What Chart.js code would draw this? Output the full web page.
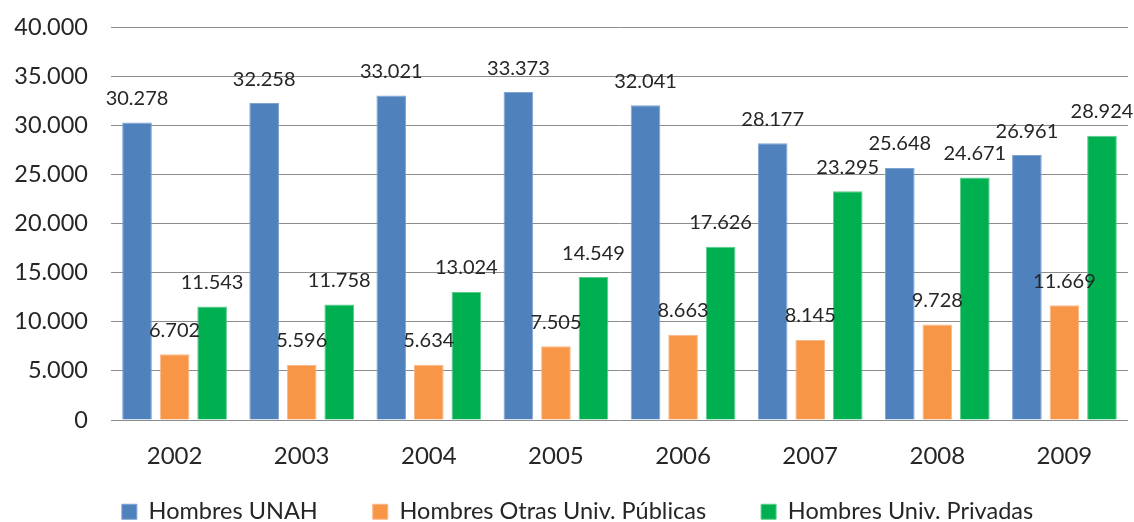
<!DOCTYPE html>
<html>
<head>
<meta charset="utf-8">
<script src="https://cdn.jsdelivr.net/npm/chart.js@4"></script>
<style>
html,body{margin:0;padding:0;background:#fff;}
#wrap{width:1134px;height:522px;position:relative;}
</style>
</head>
<body>
<div id="wrap"><canvas id="c" width="1134" height="522"></canvas></div>
<script>
const categories = ['2002','2003','2004','2005','2006','2007','2008','2009'];
const seriesNames = ['Hombres UNAH','Hombres Otras Univ. Públicas','Hombres Univ. Privadas'];
const hombresUNAH = [30278, 32258, 33021, 33373, 32041, 28177, 25648, 26961];
const hombresOtras = [6702, 5596, 5634, 7505, 8663, 8145, 9728, 11669];
const hombresPrivadas = [11543, 11758, 13024, 14549, 17626, 23295, 24671, 28924];
const yMin = 0, yMax = 40000, yStep = 5000;

const FONT = 'Lato, "Open Sans", sans-serif';
function fmt(v){
  const s = Math.round(v).toString();
  return s.replace(/\B(?=(\d{3})+(?!\d))/g, '.');
}

const labelPlugin = {
  id: 'valueLabels',
  afterDatasetsDraw(chart){
    const ctx = chart.ctx;
    ctx.save();
    ctx.font = '20px ' + FONT;
    ctx.fillStyle = '#262626';
    ctx.textAlign = 'center';
    ctx.textBaseline = 'middle';
    chart.data.datasets.forEach((ds, di) => {
      const meta = chart.getDatasetMeta(di);
      meta.data.forEach((el, i) => {
        ctx.fillText(fmt(ds.data[i]), el.x, el.y - 24);
      });
    });
    ctx.restore();
  }
};

const legendPlace = {
  id: 'legendPlace',
  afterLayout(chart){
    const lg = chart.legend;
    if (lg) {
      lg.left = 27;
      lg.top = 445;
      lg.bottom = 522;
      lg.height = 522 - 445;
      lg.width = lg.right - lg.left;
    }
  }
};

new Chart(document.getElementById('c'), {
  type: 'bar',
  data: {
    labels: categories,
    datasets: [
      {label: seriesNames[0], data: hombresUNAH, backgroundColor: '#4F81BD', borderColor: '#7FA3D0', borderWidth: 1},
      {label: seriesNames[1], data: hombresOtras, backgroundColor: '#F79646', borderColor: '#FAB88A', borderWidth: 1},
      {label: seriesNames[2], data: hombresPrivadas, backgroundColor: '#00B050', borderColor: '#5ACB8A', borderWidth: 1}
    ]
  },
  options: {
    responsive: false,
    animation: false,
    devicePixelRatio: 1,
    layout: {padding: {top: 27, right: 6, left: 0, bottom: 0}},
    datasets: {bar: {categoryPercentage: 0.886, barPercentage: 0.79}},
    scales: {
      x: {
        grid: {display: false, drawTicks: false},
        border: {display: false},
        ticks: {font: {family: FONT, size: 24}, color: '#262626', padding: 22},
        afterFit(scale){ scale.height = 60; scale.paddingLeft = 0; scale.paddingRight = 0; }
      },
      y: {
        min: yMin, max: yMax,
        grid: {color: '#8C8C8C', lineWidth: 1, drawTicks: false},
        border: {display: false},
        ticks: {stepSize: yStep, font: {family: FONT, size: 23.5}, color: '#262626', padding: 23,
          callback: (v) => fmt(v)},
        afterFit(scale){ scale.width = 111; scale.paddingTop = 0; scale.paddingBottom = 0; }
      }
    },
    plugins: {
      tooltip: {enabled: false},
      legend: {
        position: 'bottom',
        maxHeight: 42,
        labels: {font: {family: FONT, size: 23.5}, color: '#262626', boxWidth: 15, boxHeight: 15, padding: 55}
      }
    }
  },
  plugins: [labelPlugin, legendPlace]
});
</script>
</body>
</html>
